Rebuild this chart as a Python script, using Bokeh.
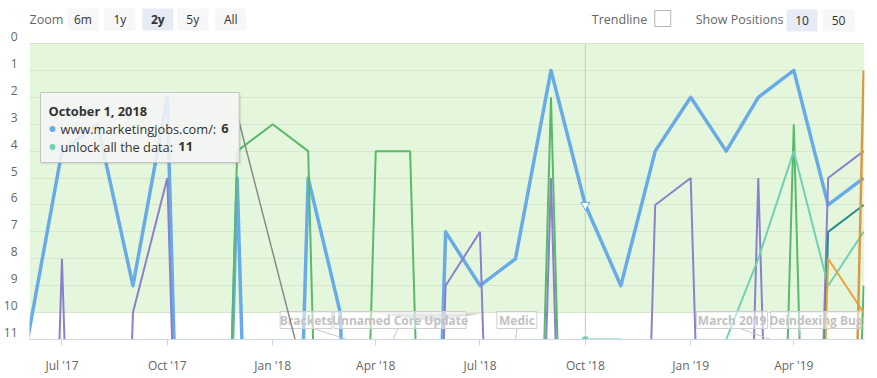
from datetime import datetime
from bokeh.plotting import figure
from bokeh.models import (Range1d, FixedTicker, MonthsTicker, DatetimeTickFormatter,
                          BoxAnnotation, LinearAxis, Grid)
from bokeh.core.properties import value
from bokeh.embed import file_html
from bokeh.resources import INLINE

# ---------------- data ----------------
months = ["2017-06-01", "2017-07-01", "2017-08-01", "2017-09-01", "2017-10-01",
          "2017-11-01", "2017-12-01", "2018-01-01", "2018-02-01", "2018-03-01",
          "2018-04-01", "2018-05-01", "2018-06-01", "2018-07-01", "2018-08-01",
          "2018-09-01", "2018-10-01", "2018-11-01", "2018-12-01", "2019-01-01",
          "2019-02-01", "2019-03-01", "2019-04-01", "2019-05-01", "2019-06-01"]
OFF = 50  # position far outside the shown top positions
marketingjobs = [11, 4, 3, 9, 2, OFF, 5, OFF, 5, 10, OFF, OFF, 7, 9, 8, 1, 6, 9, 4, 2, 4, 2, 1, 6, 5]
green_kw = [OFF, OFF, OFF, OFF, OFF, OFF, 4, 3, 4, OFF, 4, 4, OFF, OFF, OFF, 2, OFF, OFF, OFF, OFF, OFF, OFF, 3, OFF, 9]
purple_kw = [OFF, 8, OFF, 10, 5, OFF, OFF, OFF, OFF, OFF, OFF, OFF, 9, 7, OFF, 5, OFF, OFF, 6, 5, OFF, 5, OFF, 5, 4]
unlock_kw = [OFF, OFF, OFF, OFF, OFF, OFF, OFF, OFF, OFF, OFF, OFF, OFF, OFF, OFF, OFF, OFF, 11, 11, OFF, OFF, 11, 8, 4, 9, 7]
darkteal_kw = [OFF] * 23 + [7, 6]
orange_kw = [OFF] * 23 + [8, 10]
gold_kw = [OFF] * 23 + [60, 1]

y_ticks = list(range(0, 12))
grid_values = list(range(0, 11))
band_top, band_bottom = 0, 10

flag_dates = ["2018-03-07", "2018-04-16", "2018-08-01", "2019-03-12", "2019-04-05"]
flag_titles = ["Brackets", "Unnamed Core Update", "Medic", "March 2019", "Deindexing Bug"]

hover_date = "2018-10-01"
hover_title = "October 1, 2018"
hover_names = ["www.marketingjobs.com/: ", "unlock all the data: "]
hover_values = ["6", "11"]

zoom_buttons = ["6m", "1y", "2y", "5y", "All"]
pos_buttons = ["10", "50"]

# ---------------- styles / layout ----------------
FONT = "Open Sans"
C_BLUE = "#68abe6"
C_GREEN = "#57ba69"
C_PURPLE = "#8b80cc"
C_TEAL = "#70d0b3"
C_DTEAL = "#2b8e8c"
C_ORANGE = "#eda43c"
C_GOLD = "#d99a45"

W, H = 868, 378
FR_LEFT, FR_RIGHT = 29, 865          # picture px of the reference plot area
Y0_PX, Y11_PX = 43, 339              # picture px of value 0 and 11
PXU = (Y11_PX - Y0_PX) / 11.0
YTOP = -Y0_PX / PXU                   # frame starts at top of figure
SH = 7 / PXU                          # y-label lift

T0 = datetime(2017, 6, 2, 16)
T1 = datetime(2019, 6, 1, 18)


def D(s):
    return datetime.fromisoformat(s)


def px_x(px):
    return T0 + (px - FR_LEFT) / (FR_RIGHT - FR_LEFT) * (T1 - T0)


def px_y(py):
    return (py - Y0_PX) / PXU


mdates = [D(m) for m in months]

# ---------------- figure ----------------
p = figure(width=W, height=H, x_axis_type="datetime",
           x_range=Range1d(T0, T1), y_range=Range1d(11, YTOP),
           y_axis_location=None, toolbar_location=None, output_backend="svg",
           min_border_left=FR_LEFT - 8, min_border_right=4,
           min_border_top=0, min_border_bottom=H - Y11_PX,
           outline_line_color=None, background_fill_color="white",
           border_fill_color="white")
p.xgrid.visible = False
p.ygrid.visible = False

band = BoxAnnotation(top=band_top, bottom=band_bottom, fill_color="#e4f7dc",
                     fill_alpha=1.0, line_color=None, level="underlay")
p.add_layout(band)
p.add_layout(Grid(dimension=1, ticker=FixedTicker(ticks=grid_values),
                  grid_line_color="#d5e7cd", level="underlay"))

p.extra_y_ranges = {"lab": Range1d(11 + SH, YTOP + SH)}
yax = LinearAxis(y_range_name="lab", ticker=FixedTicker(ticks=y_ticks),
                 axis_line_color=None, major_tick_line_color=None,
                 minor_tick_line_color=None, major_label_text_color="#666666",
                 major_label_text_font=FONT, major_label_text_font_size="12px",
                 major_label_standoff=6)
p.add_layout(yax, "left")

xa = p.xaxis[0]
xa.ticker = MonthsTicker(months=[0, 3, 6, 9])
xa.formatter = DatetimeTickFormatter(months="%b '%y", days="%b '%y")
xa.axis_line_color = "#ccd6eb"
xa.major_tick_line_color = "#ccd6eb"
xa.major_tick_out = 6
xa.major_tick_in = 0
xa.minor_tick_line_color = None
xa.major_label_text_color = "#666666"
xa.major_label_text_font = FONT
xa.major_label_text_font_size = "12px"
xa.major_label_standoff = 11

# crosshair
hd = D(hover_date)
p.segment(x0=[hd], y0=[0], x1=[hd], y1=[11], line_color="#c6c6c6", line_width=1)

# series
p.line(mdates, marketingjobs, line_color=C_BLUE, line_width=3.5, line_join="round")
p.line(mdates, green_kw, line_color=C_GREEN, line_width=2)
p.line(mdates, purple_kw, line_color=C_PURPLE, line_width=2)
p.line(mdates, unlock_kw, line_color=C_TEAL, line_width=2)
p.line(mdates, darkteal_kw, line_color=C_DTEAL, line_width=2)
p.line(mdates, orange_kw, line_color=C_ORANGE, line_width=2)
p.line(mdates, gold_kw, line_color=C_GOLD, line_width=2.5)

# hover markers
hi = months.index(hover_date)
p.scatter([hd], [marketingjobs[hi]], marker="inverted_triangle", size=9,
          fill_color="white", line_color=C_BLUE, line_width=1)
p.scatter([hd], [unlock_kw[hi]], marker="circle", size=8,
          fill_color=C_TEAL, line_color="white", line_width=1)

# flags
box_l = [280, 334, 497, 697, 771]
box_r = [332, 466, 537, 768, 862]
box_foot = [313, 398, 517, 740, 800]
BOX_T, BOX_B = 311, 328
p.patch([px_x(380), px_x(482), px_x(432)], [px_y(313), px_y(313), px_y(321)],
        fill_color="#a8a8a8", fill_alpha=0.6, line_color=None)
p.segment(x0=[px_x(f) for f in box_foot], y0=[px_y(BOX_B)] * 5,
          x1=[D(d) for d in flag_dates], y1=[11] * 5,
          line_color="#c8c8c8", line_width=1)
p.quad(left=[px_x(v) for v in box_l], right=[px_x(v) for v in box_r],
       top=[px_y(BOX_T)] * 5, bottom=[px_y(BOX_B)] * 5,
       fill_color="white", fill_alpha=0.55, line_color="#cfcfcf", line_width=1)
p.text(x=[px_x((a + b) / 2) for a, b in zip(box_l, box_r)],
       y=[px_y((BOX_T + BOX_B) / 2)] * 5, text=flag_titles,
       text_font=value(FONT), text_font_size="12px", text_font_style="bold",
       text_color="#c2c2c2", text_align="center", text_baseline="middle")

# grey connector line (as in the reference)
p.segment(x0=[px_x(238)], y0=[px_y(118)], x1=[px_x(305)], y1=[px_y(378)],
          line_color="#8a8a8a", line_width=1.5)

# tooltip
TT_L, TT_R, TT_T, TT_B = 40, 239, 92, 162
p.quad(left=[px_x(TT_L + 1)], right=[px_x(TT_R + 2)], top=[px_y(TT_T + 2)],
       bottom=[px_y(TT_B + 2)], fill_color="black", fill_alpha=0.08, line_color=None)
p.quad(left=[px_x(TT_L)], right=[px_x(TT_R)], top=[px_y(TT_T)], bottom=[px_y(TT_B)],
       fill_color="#f7f7f7", fill_alpha=0.88, line_color="#c4c4c4", line_width=1)
p.text(x=[px_x(48)], y=[px_y(110)], text=[hover_title], text_font=value(FONT),
       text_font_size="12.8px", text_font_style="bold", text_color="#333333",
       text_baseline="middle")
p.scatter([px_x(52), px_x(52)], [px_y(128.5), px_y(146.5)], marker="circle",
          size=6, fill_color=[C_BLUE, C_TEAL], line_color=None)
p.text(x=[px_x(60), px_x(60)], y=[px_y(128), px_y(146)], text=hover_names,
       text_font=value(FONT), text_font_size="12.8px", text_color="#333333",
       text_baseline="middle")
p.text(x=[px_x(221), px_x(178)], y=[px_y(128), px_y(146)], text=hover_values,
       text_font=value(FONT), text_font_size="12.8px", text_font_style="bold",
       text_color="#333333", text_baseline="middle")

# ---------------- range selector bar (top, above plot band) ----------------
zb_l = [67, 104, 142, 177, 215]
zb_r = [98, 135, 173, 208, 246]
zb_fill = ["#f7f7f7", "#f7f7f7", "#e6ebf5", "#f7f7f7", "#f7f7f7"]
BT_T, BT_B, BT_C = 8, 30, 19
p.quad(left=[px_x(v) for v in zb_l], right=[px_x(v) for v in zb_r],
       top=[px_y(BT_T)] * 5, bottom=[px_y(BT_B)] * 5, fill_color=zb_fill, line_color=None)
p.text(x=[px_x((a + b) / 2) for a, b in zip(zb_l, zb_r)], y=[px_y(BT_C)] * 5,
       text=zoom_buttons, text_font=value(FONT), text_font_size="12px",
       text_color="#333333",
       text_font_style=["normal", "normal", "bold", "normal", "normal"],
       text_align="center", text_baseline="middle")
p.text(x=[px_x(29), px_x(592), px_x(696)], y=[px_y(BT_C)] * 3,
       text=["Zoom", "Trendline", "Show Positions"], text_font=value(FONT),
       text_font_size="12.5px", text_color="#666666", text_baseline="middle")
p.quad(left=[px_x(655)], right=[px_x(671)], top=[px_y(10)], bottom=[px_y(26)],
       fill_color="white", line_color="#b5b5b5", line_width=1)
pb_l = [787, 823]
pb_r = [818, 855]
p.quad(left=[px_x(v) for v in pb_l], right=[px_x(v) for v in pb_r],
       top=[px_y(9)] * 2, bottom=[px_y(31)] * 2,
       fill_color=["#e6ebf5", "#f7f7f7"], line_color=None)
p.text(x=[px_x((a + b) / 2) for a, b in zip(pb_l, pb_r)], y=[px_y(20)] * 2,
       text=pos_buttons, text_font=value(FONT), text_font_size="12px",
       text_color="#333333", text_align="center", text_baseline="middle")

open("out.html", "w").write(file_html(p, INLINE))
